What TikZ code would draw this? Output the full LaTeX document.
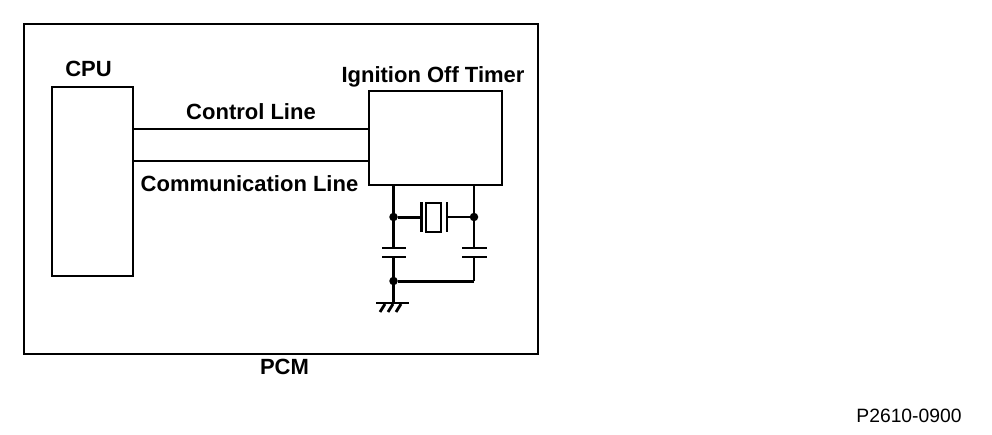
\documentclass[tikz,border=0pt]{standalone}
\usepackage{fontspec}
\setmainfont{Liberation Sans}
\usetikzlibrary{positioning}

\tikzset{
  unitbox/.style={draw, line width=2.5pt, inner sep=0pt, fill=none},
  lbl/.style={font=\fontsize{22}{24}\selectfont\bfseries, inner sep=0pt},
  wire/.style={line width=2pt},
  heavywire/.style={line width=3pt},
  thinwire/.style={line width=1.8pt},
  plate/.style={line width=2.2pt},
  dot/.style={fill, circle, inner sep=0pt, minimum size=8.5pt}
}

\begin{document}
\begin{tikzpicture}[x=1pt,y=-1pt,line cap=butt]
  \useasboundingbox (0,0) rectangle (992,434);
  % outer frame and the two blocks
  \node (pcm) [unitbox, minimum width=514pt, minimum height=330pt] at (281,189) {};
  \node (cpu) [unitbox, minimum width=81pt, minimum height=189pt]  at (92.5,181.5) {};
  \node (tmr) [unitbox, minimum width=133pt, minimum height=94pt]  at (435.5,138) {};
  % labels
  \node (cpulbl) [lbl] at (88.5,69)   {CPU};
  \node (tmrlbl) [lbl] at (433,76.5)  {Ignition Off Timer};
  \node (ctllbl) [lbl] at (251,111.5) {Control Line};
  \node (comlbl) [lbl] at (249.5,183.5) {Communication Line};
  \node (pcmlbl) [lbl] at (284.5,367) {PCM};
  \node (partno) [font=\fontsize{19.3}{21}\selectfont, inner sep=0pt] at (909,415.5) {P2610-0900};
  % lines between the blocks
  \coordinate (ctlA) at (133,129);
  \coordinate (ctlB) at (369,129);
  \coordinate (comA) at (133,161);
  \coordinate (comB) at (369,161);
  \draw [wire] (ctlA) -- (ctlB);
  \draw [wire] (comA) -- (comB);
  % circuit points
  \coordinate (la) at (393.5,185);
  \coordinate (ra) at (474,185);
  \node (lj) [dot] at (393.5,217) {};
  \node (rj) [dot] at (474,217)   {};
  \coordinate (lc1) at (393.5,248);
  \coordinate (lc2) at (393.5,257);
  \coordinate (rc1) at (474,248);
  \coordinate (rc2) at (474,257);
  \node (lb) [dot] at (393.5,281) {};
  \coordinate (rb) at (474,281);
  \coordinate (gnd) at (393.5,303);
  % crystal
  \node (xtal) [draw, line width=1.8pt, inner sep=0pt, minimum width=15pt, minimum height=29pt] at (433.5,217.5) {};
  \coordinate (xl) at (421.5,217);
  \coordinate (xr) at (447,217);
  \draw [heavywire] (la) -- (lc1);
  \draw [heavywire] (lc2) -- (gnd);
  \draw [thinwire] (ra) -- (rc1);
  \draw [thinwire] (rc2) -- (rb);
  \draw [heavywire] (lj) -- (xl);
  \draw [thinwire] (xr) -- (rj);
  \draw [heavywire] (lb) -- (rb);
  \draw [plate, line width=3pt] (421.5,202) -- (421.5,232);
  \draw [plate] (447,202) -- (447,232);
  \foreach \y in {248,257} {
    \draw [plate] (382,\y) -- (406,\y);
    \draw [plate] (462,\y) -- (487,\y);
  }
  % ground
  \draw [plate] (376,303) -- (409,303);
  \foreach \x in {385,393,401}
    \draw [plate, line width=2.8pt] (\x,304) -- (\x-5,312);
\end{tikzpicture}
\end{document}
